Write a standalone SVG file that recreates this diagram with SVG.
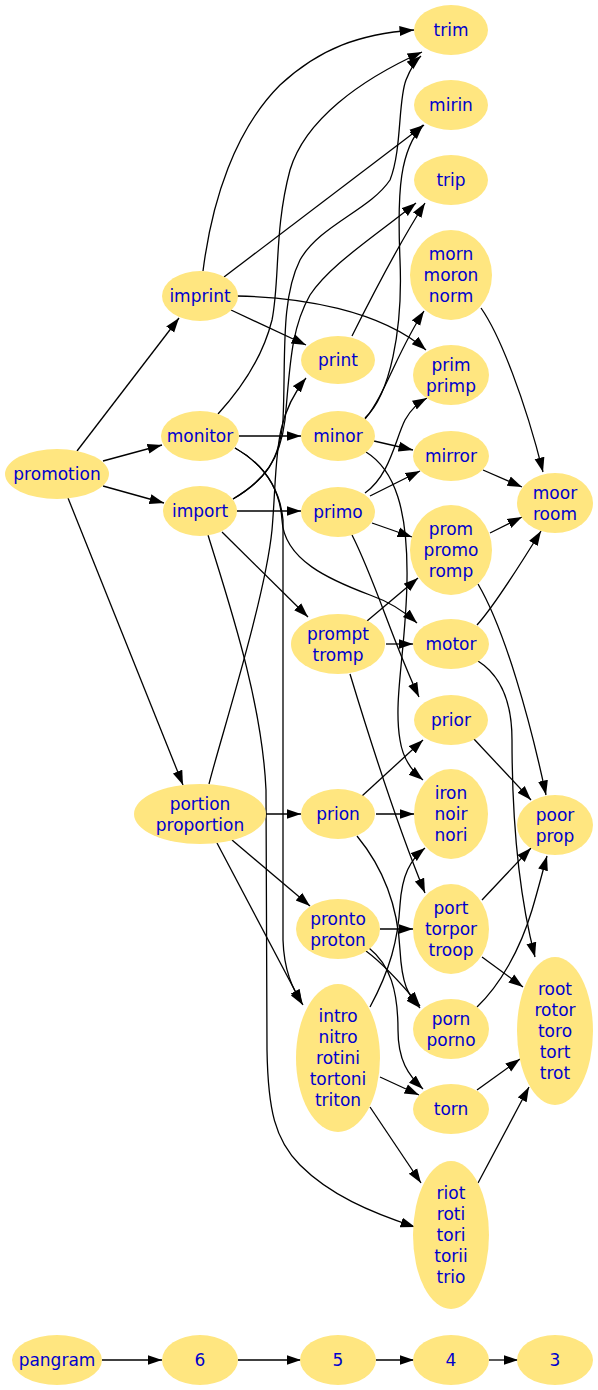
<svg xmlns="http://www.w3.org/2000/svg" width="598" height="1390" viewBox="0 0 598 1390">
<style>
.n ellipse{fill:#ffe680;stroke:none}
.n text{font-family:"DejaVu Sans",Verdana,sans-serif;font-size:17px;fill:#0000cd;text-anchor:middle}
.e path{fill:none;stroke:#000;stroke-width:1.3;marker-end:url(#a)}
</style>
<defs>
<marker id="a" markerUnits="userSpaceOnUse" markerWidth="16" markerHeight="12" refX="14.5" refY="5.5" orient="auto"><path d="M0,0.5 L14.5,5.5 L0,10.5 z" fill="#000"/></marker>
</defs>
<rect width="598" height="1390" fill="#fff"/>
<g id="edges" class="e">
<path d="M77,451 L179,318"/>
<path d="M103,461 L162,445"/>
<path d="M103,486 L164,503"/>
<path d="M68,498 L183,785"/>
<path d="M203,271 C212,200 235,130 280,85 C320,48 360,34 414,30"/>
<path d="M224,277 L424,125"/>
<path d="M231,310 L306,345"/>
<path d="M237,296 C300,297 380,310 426,350"/>
<path d="M218,414 C240,390 262,360 272,320 C280,280 274,230 290,170 C305,120 360,80 422,52"/>
<path d="M233,499 C265,480 280,460 283,420 C286,360 280,300 300,260 C320,225 370,210 390,180 C402,150 398,100 406,80 C410,70 414,62 421,56"/>
<path d="M233,499 C265,480 280,460 285,420 C290,370 290,330 310,295 C330,265 370,240 416,203"/>
<path d="M209,784 C220,740 265,600 272,530 C278,460 272,420 306,378"/>
<path d="M352,336 C370,300 395,250 425,203"/>
<path d="M239,436 L301,436"/>
<path d="M235,448 C265,465 280,490 282,520 C284,560 330,580 370,595 C390,602 405,612 417,623"/>
<path d="M235,448 C265,465 280,490 283,520 L283,940 C284,970 292,988 303,1005"/>
<path d="M237,511 L301,511"/>
<path d="M222,532 L308,617"/>
<path d="M208,535 C228,600 262,700 266,790 L267,1050 C268,1110 275,1140 300,1165 C330,1195 370,1212 415,1227"/>
<path d="M266,814 L301,814"/>
<path d="M232,840 L310,906"/>
<path d="M217,843 L302,1004"/>
<path d="M365,418 C390,395 403,330 400,260 C397,190 400,150 423,125"/>
<path d="M365,419 C385,395 398,350 424,311"/>
<path d="M374,441 L413,450"/>
<path d="M366,452 C395,470 408,510 407,580 C406,650 393,700 400,740 C403,760 413,772 423,780"/>
<path d="M365,493 C390,475 395,440 405,420 C412,408 418,403 427,398"/>
<path d="M370,496 L420,471"/>
<path d="M372,523 L412,537"/>
<path d="M352,535 C375,580 392,640 419,697"/>
<path d="M367,621 L418,578"/>
<path d="M386,644 L413,644"/>
<path d="M350,674 C370,740 395,820 425,893"/>
<path d="M362,796 L423,740"/>
<path d="M376,814 L414,814"/>
<path d="M357,836 C385,870 398,910 400,950 C402,985 408,995 420,1008"/>
<path d="M380,929 L413,929"/>
<path d="M366,951 C385,965 405,988 420,1006"/>
<path d="M369,948 C390,965 398,990 398,1030 C398,1060 408,1075 423,1089"/>
<path d="M370,1007 C390,970 398,940 400,905 C402,875 410,860 425,848"/>
<path d="M380,1077 L419,1095"/>
<path d="M370,1107 L421,1183"/>
<path d="M481,308 C500,335 525,400 543,472"/>
<path d="M483,470 L522,487"/>
<path d="M490,533 L522,517"/>
<path d="M477,625 C495,605 520,565 541,531"/>
<path d="M478,584 C505,630 530,720 546,795"/>
<path d="M473,738 L531,800"/>
<path d="M482,900 L531,848"/>
<path d="M477,1007 C500,985 520,950 532,910 C538,890 543,870 547,856"/>
<path d="M478,661 C500,675 512,700 512,740 C512,800 515,880 535,957"/>
<path d="M482,957 L523,987"/>
<path d="M477,1090 L520,1059"/>
<path d="M478,1183 L529,1087"/>
<path d="M102,1360 L162,1360"/>
<path d="M238,1360 L301,1360"/>
<path d="M376,1360 L414,1360"/>
<path d="M489,1360 L518,1360"/>
</g>
<g id="promotion" class="n"><ellipse cx="57" cy="474" rx="52" ry="25"/><text x="57" y="480">promotion</text></g>
<g id="imprint" class="n"><ellipse cx="200" cy="296" rx="38" ry="25"/><text x="200" y="302">imprint</text></g>
<g id="monitor" class="n"><ellipse cx="200" cy="436" rx="39" ry="25"/><text x="200" y="442">monitor</text></g>
<g id="import" class="n"><ellipse cx="200" cy="511" rx="37" ry="25"/><text x="200" y="517">import</text></g>
<g id="portion" class="n"><ellipse cx="200" cy="814" rx="66" ry="30"/><text x="200" y="809.5">portion</text><text x="200" y="830.5">proportion</text></g>
<g id="print" class="n"><ellipse cx="338" cy="360" rx="37" ry="24"/><text x="338" y="366">print</text></g>
<g id="minor" class="n"><ellipse cx="338" cy="436" rx="37" ry="25"/><text x="338" y="442">minor</text></g>
<g id="primo" class="n"><ellipse cx="338" cy="512" rx="37" ry="25"/><text x="338" y="518">primo</text></g>
<g id="prompt" class="n"><ellipse cx="338" cy="644" rx="47" ry="30"/><text x="338" y="639.5">prompt</text><text x="338" y="660.5">tromp</text></g>
<g id="prion" class="n"><ellipse cx="338" cy="814" rx="37" ry="25"/><text x="338" y="820">prion</text></g>
<g id="pronto" class="n"><ellipse cx="338" cy="929" rx="42" ry="30"/><text x="338" y="924.5">pronto</text><text x="338" y="945.5">proton</text></g>
<g id="intro" class="n"><ellipse cx="338" cy="1058" rx="42" ry="74"/><text x="338" y="1022">intro</text><text x="338" y="1043">nitro</text><text x="338" y="1064">rotini</text><text x="338" y="1085">tortoni</text><text x="338" y="1106">triton</text></g>
<g id="trim" class="n"><ellipse cx="451" cy="30" rx="37" ry="25"/><text x="451" y="36">trim</text></g>
<g id="mirin" class="n"><ellipse cx="451" cy="105" rx="37" ry="25"/><text x="451" y="111">mirin</text></g>
<g id="trip" class="n"><ellipse cx="451" cy="180" rx="37" ry="25"/><text x="451" y="186">trip</text></g>
<g id="morn" class="n"><ellipse cx="451" cy="275" rx="41" ry="45"/><text x="451" y="260">morn</text><text x="451" y="281">moron</text><text x="451" y="302">norm</text></g>
<g id="prim" class="n"><ellipse cx="451" cy="375" rx="38" ry="30"/><text x="451" y="370.5">prim</text><text x="451" y="391.5">primp</text></g>
<g id="mirror" class="n"><ellipse cx="451" cy="456" rx="38" ry="25"/><text x="451" y="462">mirror</text></g>
<g id="prom" class="n"><ellipse cx="451" cy="550" rx="41" ry="45"/><text x="451" y="535">prom</text><text x="451" y="556">promo</text><text x="451" y="577">romp</text></g>
<g id="motor" class="n"><ellipse cx="451" cy="644" rx="38" ry="25"/><text x="451" y="650">motor</text></g>
<g id="prior" class="n"><ellipse cx="451" cy="720" rx="37" ry="25"/><text x="451" y="726">prior</text></g>
<g id="iron" class="n"><ellipse cx="451" cy="814" rx="37" ry="45"/><text x="451" y="799">iron</text><text x="451" y="820">noir</text><text x="451" y="841">nori</text></g>
<g id="port" class="n"><ellipse cx="451" cy="929" rx="38" ry="45"/><text x="451" y="914">port</text><text x="451" y="935">torpor</text><text x="451" y="956">troop</text></g>
<g id="porn" class="n"><ellipse cx="451" cy="1029" rx="38" ry="30"/><text x="451" y="1024.5">porn</text><text x="451" y="1045.5">porno</text></g>
<g id="torn" class="n"><ellipse cx="451" cy="1109" rx="38" ry="25"/><text x="451" y="1115">torn</text></g>
<g id="riot" class="n"><ellipse cx="451" cy="1235" rx="38" ry="74"/><text x="451" y="1199">riot</text><text x="451" y="1220">roti</text><text x="451" y="1241">tori</text><text x="451" y="1262">torii</text><text x="451" y="1283">trio</text></g>
<g id="moor" class="n"><ellipse cx="555" cy="503" rx="38" ry="30"/><text x="555" y="498.5">moor</text><text x="555" y="519.5">room</text></g>
<g id="poor" class="n"><ellipse cx="555" cy="825" rx="38" ry="30"/><text x="555" y="820.5">poor</text><text x="555" y="841.5">prop</text></g>
<g id="root" class="n"><ellipse cx="555" cy="1031" rx="38" ry="74"/><text x="555" y="995">root</text><text x="555" y="1016">rotor</text><text x="555" y="1037">toro</text><text x="555" y="1058">tort</text><text x="555" y="1079">trot</text></g>
<g id="pangram" class="n"><ellipse cx="57" cy="1360" rx="45" ry="25"/><text x="57" y="1366">pangram</text></g>
<g id="r6" class="n"><ellipse cx="200" cy="1360" rx="38" ry="25"/><text x="200" y="1366">6</text></g>
<g id="r5" class="n"><ellipse cx="338" cy="1360" rx="38" ry="25"/><text x="338" y="1366">5</text></g>
<g id="r4" class="n"><ellipse cx="451" cy="1360" rx="38" ry="25"/><text x="451" y="1366">4</text></g>
<g id="r3" class="n"><ellipse cx="555" cy="1360" rx="38" ry="25"/><text x="555" y="1366">3</text></g>
</svg>
